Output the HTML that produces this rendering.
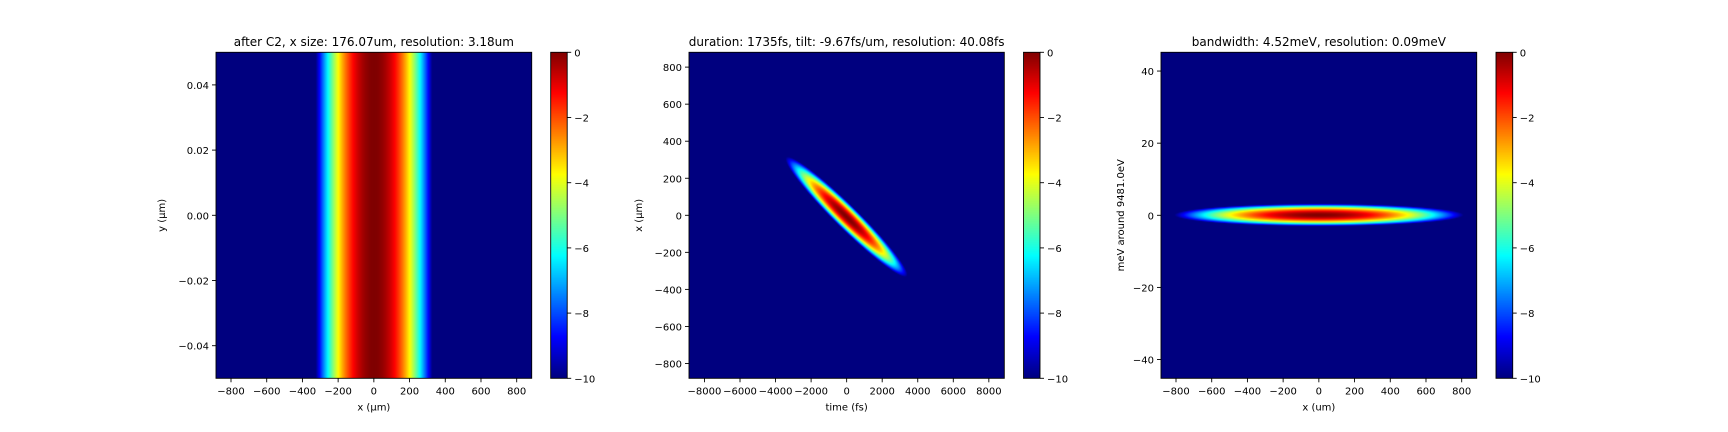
<!DOCTYPE html>
<html><head><meta charset="utf-8">
<style>
html,body{margin:0;padding:0;background:#fff;}
#root{position:relative;width:1728px;height:432px;overflow:hidden;font-family:"DejaVu Sans","Liberation Sans",sans-serif;}
canvas{position:absolute;}
svg{position:absolute;left:0;top:0;}
text{font-family:"DejaVu Sans","Liberation Sans",sans-serif;fill:#000;}
</style></head>
<body>
<div id="root">
<canvas id="c1"></canvas>
<canvas id="c2"></canvas>
<canvas id="c3"></canvas>
<canvas id="cb1"></canvas>
<canvas id="cb2"></canvas>
<canvas id="cb3"></canvas>
<svg id="ov" width="1728" height="432"></svg>
</div>
<script>
// ---- data ----
const panelTitles = ["after C2, x size: 176.07um, resolution: 3.18um","duration: 1735fs, tilt: -9.67fs/um, resolution: 40.08fs","bandwidth: 4.52meV, resolution: 0.09meV"];
const xLabels = ["x (\u03bcm)","time (fs)","x (um)"];
const yLabels = ["y (\u03bcm)","x (\u03bcm)","meV around 9481.0eV"];
const xRanges = [[-884,884],[-8870,8870],[-884,884]];
const yRanges = [[-0.05,0.05],[-880,880],[-45.2,45.2]];
const xTicks = [[-800,-600,-400,-200,0,200,400,600,800],[-8000,-6000,-4000,-2000,0,2000,4000,6000,8000],[-800,-600,-400,-200,0,200,400,600,800]];
const yTicks = [[-0.04,-0.02,0,0.02,0.04],[-800,-600,-400,-200,0,200,400,600,800],[-40,-20,0,20,40]];
const yTickLabels = [["\u22120.04","\u22120.02","0.00","0.02","0.04"],null,null];
const cbTicks = [0,-2,-4,-6,-8,-10];
const beamHCenter = [0, 0, 0];
const beamVCenter = [0, -10, 0];
const beamHWidth = [103, 290, 256];
const beamVWidth = [1e9, 102.5, 0.98];
const beamTilt = [0, -10.2, 0];
const logMin = -10;

// ---- layout ----
const axes = [{l:216,t:52.3,w:315.7,h:326},{l:689,t:52.3,w:315.3,h:326},{l:1161,t:52.3,w:315.7,h:326}];
const cbs = [{l:550.7,w:16.5},{l:1023.5,w:16.5},{l:1496,w:16.7}];

function jet(v){
  function c(x){return Math.max(0,Math.min(1,x));}
  const r=c(Math.min(4*v-1.5,-4*v+4.5)), g=c(Math.min(4*v-0.5,-4*v+3.5)), b=c(Math.min(4*v+0.5,-4*v+2.5));
  return [r*255|0,g*255|0,b*255|0];
}
function fmt(v){return (v<0?"\u2212":"")+Math.abs(v);}
const ov=document.getElementById('ov');
const NS="http://www.w3.org/2000/svg";
function el(tag,attrs,txt){const e=document.createElementNS(NS,tag);for(const k in attrs)e.setAttribute(k,attrs[k]);if(txt!==undefined)e.textContent=txt;ov.appendChild(e);return e;}
const FS='10';
for(let p=0;p<3;p++){
  const a=axes[p];
  const cv=document.getElementById('c'+(p+1));
  const W=Math.round(a.w),H=Math.round(a.h);
  cv.width=W;cv.height=H;cv.style.left=a.l+'px';cv.style.top=a.t+'px';cv.style.width=a.w+'px';cv.style.height=a.h+'px';
  const ctx=cv.getContext('2d');const img=ctx.createImageData(W,H);
  const [x0,x1]=xRanges[p],[y0,y1]=yRanges[p];
  for(let j=0;j<H;j++){
    const vy=y1-(j+0.5)/H*(y1-y0);
    for(let i=0;i<W;i++){
      const hx=x0+(i+0.5)/W*(x1-x0);
      const du=(hx-beamTilt[p]*(vy-beamVCenter[p])-beamHCenter[p])/beamHWidth[p];
      const dv=(vy-beamVCenter[p])/beamVWidth[p];
      let L=-(du*du+dv*dv); if(L<logMin)L=logMin;
      const col=jet((L-logMin)/(-logMin));
      const k=(j*W+i)*4;img.data[k]=col[0];img.data[k+1]=col[1];img.data[k+2]=col[2];img.data[k+3]=255;
    }
  }
  ctx.putImageData(img,0,0);
  const sx=v=>a.l+(v-x0)/(x1-x0)*a.w, sy=v=>a.t+(y1-v)/(y1-y0)*a.h;
  const fr=el('rect',{x:a.l,y:a.t,width:a.w,height:a.h,fill:'none',stroke:'#000','stroke-width':0.9});
  
  
  xTicks[p].forEach(v=>{
    const X=sx(v);
    el('line',{x1:X,x2:X,y1:a.t+a.h,y2:a.t+a.h+4,stroke:'#000','stroke-width':0.9});
    const t=el('text',{x:X,y:a.t+a.h+16,'font-size':FS,'text-anchor':'middle'},fmt(v));
    
    
  });
  yTicks[p].forEach((v,i)=>{
    const Y=sy(v);
    el('line',{x1:a.l-4,x2:a.l,y1:Y,y2:Y,stroke:'#000','stroke-width':0.9});
    const lab=yTickLabels[p]?yTickLabels[p][i]:fmt(v);
    const t=el('text',{x:a.l-7,y:Y+4,'font-size':FS,'text-anchor':'end'},lab);
    
    
  });
  const tt=el('text',{x:a.l+a.w/2,y:46,'font-size':'12','text-anchor':'middle'},panelTitles[p]);
  
  
  const xl=el('text',{x:a.l+a.w/2,y:a.t+a.h+32,'font-size':FS,'text-anchor':'middle'},xLabels[p]);
  
  
  const ylx=[165,642,1124][p];
  const yl=el('text',{x:ylx,y:a.t+a.h/2,'font-size':FS,'text-anchor':'middle',transform:`rotate(-90 ${ylx} ${a.t+a.h/2})`},yLabels[p]);
  
  
  const cb=cbs[p];const cc=document.getElementById('cb'+(p+1));
  cc.width=1;cc.height=326;cc.style.left=cb.l+'px';cc.style.top=a.t+'px';cc.style.width=cb.w+'px';cc.style.height=a.h+'px';
  const c2=cc.getContext('2d');const im2=c2.createImageData(1,326);
  for(let j=0;j<326;j++){const col=jet(1-(j+0.5)/326);im2.data[j*4]=col[0];im2.data[j*4+1]=col[1];im2.data[j*4+2]=col[2];im2.data[j*4+3]=255;}
  c2.putImageData(im2,0,0);
  el('rect',{x:cb.l,y:a.t,width:cb.w,height:a.h,fill:'none',stroke:'#000','stroke-width':0.9});
  cbTicks.forEach(v=>{
    const Y=a.t+(0-v)/10*a.h;
    el('line',{x1:cb.l+cb.w,x2:cb.l+cb.w+4,y1:Y,y2:Y,stroke:'#000','stroke-width':0.9});
    const t=el('text',{x:cb.l+cb.w+7,y:Y+4,'font-size':FS},fmt(v));
    
    
  });
}
</script>
</body></html>
